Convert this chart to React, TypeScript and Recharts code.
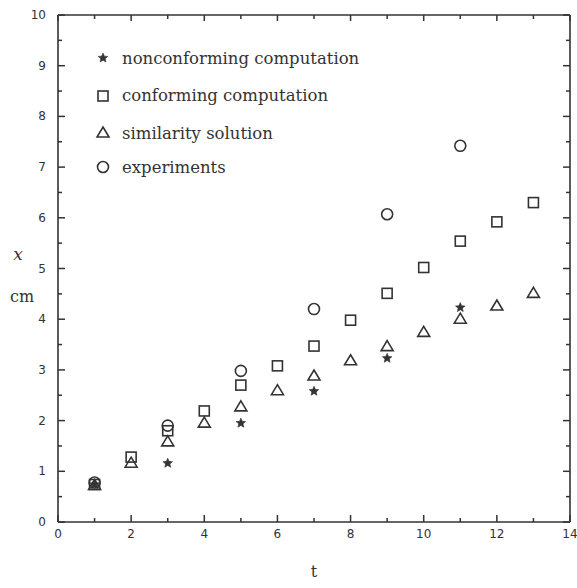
import React from "react";
import { ScatterChart, Scatter, XAxis, YAxis, Legend, Label } from "recharts";

// ---- data ----
const nonconfT = [1, 3, 5, 7, 9, 11];
const nonconfX = [0.74, 1.16, 1.95, 2.58, 3.23, 4.23];

const confT = [1, 2, 3, 4, 5, 6, 7, 8, 9, 10, 11, 12, 13];
const confX = [0.74, 1.28, 1.8, 2.19, 2.7, 3.08, 3.47, 3.98, 4.51, 5.02, 5.54, 5.92, 6.3];

const simT = [1, 2, 3, 4, 5, 6, 7, 8, 9, 10, 11, 12, 13];
const simX = [0.72, 1.16, 1.58, 1.95, 2.27, 2.59, 2.88, 3.18, 3.46, 3.74, 4.0, 4.26, 4.51];

const expT = [1, 3, 5, 7, 9, 11];
const expX = [0.78, 1.9, 2.98, 4.2, 6.07, 7.42];

const xTicks = [0, 1, 2, 3, 4, 5, 6, 7, 8, 9, 10, 11, 12, 13, 14];
const yTicks = [0, 0.5, 1, 1.5, 2, 2.5, 3, 3.5, 4, 4.5, 5, 5.5, 6, 6.5, 7, 7.5, 8, 8.5, 9, 9.5, 10];

const seriesNames = [
  "nonconforming computation",
  "conforming computation",
  "similarity solution",
  "experiments",
];

const zip = (ts: number[], xs: number[]) => ts.map((t, i) => ({ t, x: xs[i] }));

const INK = "#333333";

// ---- marker shapes ----
const Star = ({ cx, cy, r = 5 }: any) => {
  const pts: string[] = [];
  for (let i = 0; i < 10; i++) {
    const rad = i % 2 === 0 ? r : r * 0.45;
    const a = -Math.PI / 2 + (i * Math.PI) / 5;
    pts.push(`${cx + rad * Math.cos(a)},${cy + rad * Math.sin(a)}`);
  }
  return <polygon points={pts.join(" ")} fill={INK} stroke={INK} strokeWidth={0.6} />;
};
const Square = ({ cx, cy }: any) => (
  <rect x={cx - 5} y={cy - 5} width={10} height={10} fill="none" stroke={INK} strokeWidth={1.6} />
);
const Triangle = ({ cx, cy }: any) => (
  <polygon
    points={`${cx},${cy - 6} ${cx + 6},${cy + 4} ${cx - 6},${cy + 4}`}
    fill="none"
    stroke={INK}
    strokeWidth={1.6}
  />
);
const Circle = ({ cx, cy }: any) => (
  <circle cx={cx} cy={cy} r={5.5} fill="none" stroke={INK} strokeWidth={1.6} />
);

const markerFor = [Star, Square, Triangle, Circle];

// ---- ticks ----
const tickFont = { fontFamily: "DejaVu Sans", fontSize: 12, fill: INK };

const BottomTick = ({ x, y, payload }: any) => {
  const v = payload.value;
  const major = v % 2 === 0;
  return (
    <g>
      <line x1={x} y1={y} x2={x} y2={y - (major ? 7 : 4)} stroke={INK} strokeWidth={1.5} />
      {major && (
        <text x={x} y={y + 16} textAnchor="middle" {...tickFont}>
          {v}
        </text>
      )}
    </g>
  );
};
const TopTick = ({ x, y, payload }: any) => {
  const major = payload.value % 2 === 0;
  return <line x1={x} y1={y} x2={x} y2={y + (major ? 6 : 4)} stroke={INK} strokeWidth={1.5} />;
};
const LeftTick = ({ x, y, payload }: any) => {
  const v = payload.value;
  const major = Number.isInteger(v);
  return (
    <g>
      <line x1={x} y1={y} x2={x + (major ? 7 : 4)} y2={y} stroke={INK} strokeWidth={1.5} />
      {major && (
        <text x={x - 12} y={y + 4} textAnchor="end" {...tickFont}>
          {v}
        </text>
      )}
    </g>
  );
};
const RightTick = ({ x, y, payload }: any) => {
  const major = Number.isInteger(payload.value);
  return <line x1={x} y1={y} x2={x - (major ? 7 : 4)} y2={y} stroke={INK} strokeWidth={1.5} />;
};

const rowHeights = [34, 41, 34, 34];

const LegendContent = () => (
  <div style={{ fontFamily: "DejaVu Serif", fontSize: 16.5, color: INK }}>
    {seriesNames.map((name, i) => {
      const M = markerFor[i];
      return (
        <div key={name} style={{ display: "flex", alignItems: "center", height: rowHeights[i] }}>
          <svg width={16} height={16} style={{ marginRight: 11 }}>
            <M cx={8} cy={8} />
          </svg>
          <span>{name}</span>
        </div>
      );
    })}
  </div>
);

const YLabel = ({ viewBox }: any) => {
  const { x, y } = viewBox;
  return (
    <g fontFamily="DejaVu Serif" fill={INK}>
      <text x={18} y={y + 245} textAnchor="middle" fontSize={17} fontStyle="italic">
        x
      </text>
      <text x={22} y={y + 287} textAnchor="middle" fontSize={16}>
        cm
      </text>
    </g>
  );
};
const XLabel = ({ viewBox }: any) => {
  const { x, y } = viewBox;
  return (
    <text x={x + 256} y={y + 55} textAnchor="middle" fontFamily="DejaVu Serif" fontSize={16} fill={INK}>
      t
    </text>
  );
};

export default function App() {
  return (
    <div style={{ position: "absolute", left: 0, top: 0, background: "#fff" }}>
      <ScatterChart width={577} height={588} margin={{ top: 14, right: 6, bottom: 0, left: 0 }}>
        <XAxis
          xAxisId={0}
          dataKey="t"
          type="number"
          domain={[0, 14]}
          ticks={xTicks}
          interval={0}
          tickSize={0}
          tickMargin={0}
          tickLine={false}
          height={66}
          axisLine={{ stroke: INK, strokeWidth: 1.6 }}
          tick={<BottomTick />}
          allowDataOverflow
        >
          <Label content={<XLabel />} />
        </XAxis>
        <XAxis
          xAxisId="top"
          orientation="top"
          dataKey="t"
          type="number"
          domain={[0, 14]}
          ticks={xTicks}
          interval={0}
          tickSize={0}
          tickMargin={0}
          tickLine={false}
          height={1}
          axisLine={{ stroke: INK, strokeWidth: 1.6 }}
          tick={<TopTick />}
          allowDataOverflow
        />
        <YAxis
          yAxisId={0}
          dataKey="x"
          type="number"
          domain={[0, 10]}
          ticks={yTicks}
          interval={0}
          tickSize={0}
          tickMargin={0}
          tickLine={false}
          width={58}
          axisLine={{ stroke: INK, strokeWidth: 1.6 }}
          tick={<LeftTick />}
          allowDataOverflow
        >
          <Label content={<YLabel />} />
        </YAxis>
        <YAxis
          yAxisId="right"
          orientation="right"
          dataKey="x"
          type="number"
          domain={[0, 10]}
          ticks={yTicks}
          interval={0}
          tickSize={0}
          tickMargin={0}
          tickLine={false}
          width={1}
          axisLine={{ stroke: INK, strokeWidth: 1.6 }}
          tick={<RightTick />}
          allowDataOverflow
        />
        <Legend
          layout="vertical"
          align="center"
          verticalAlign="middle"
          content={<LegendContent />}
          wrapperStyle={{ position: "absolute", top: 41, left: 95, width: "auto", height: "auto" }}
        />
        <Scatter xAxisId={0} yAxisId={0} name={seriesNames[0]} data={zip(nonconfT, nonconfX)} shape={<Star />} isAnimationActive={false} />
        <Scatter xAxisId={0} yAxisId={0} name={seriesNames[1]} data={zip(confT, confX)} shape={<Square />} isAnimationActive={false} />
        <Scatter xAxisId={0} yAxisId={0} name={seriesNames[2]} data={zip(simT, simX)} shape={<Triangle />} isAnimationActive={false} />
        <Scatter xAxisId={0} yAxisId={0} name={seriesNames[3]} data={zip(expT, expX)} shape={<Circle />} isAnimationActive={false} />
        <Scatter xAxisId="top" yAxisId="right" data={[]} isAnimationActive={false} legendType="none" />
      </ScatterChart>
    </div>
  );
}
